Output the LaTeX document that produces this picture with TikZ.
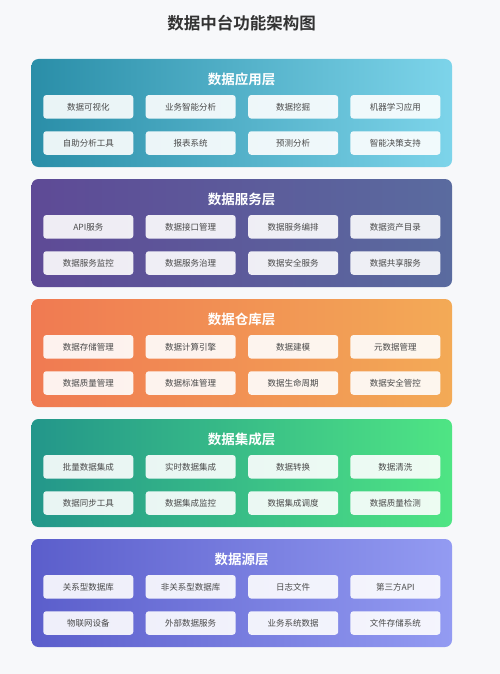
\documentclass[tikz,border=0pt]{standalone}
\usepackage{fontspec}
\setmainfont{Noto Sans CJK SC}
\newfontfamily\cjkbold{Noto Sans CJK SC Bold}
\usetikzlibrary{positioning}
\definecolor{bgc}{HTML}{F7F8FA}
\definecolor{titlec}{HTML}{333333}
\definecolor{itemtxt}{HTML}{4A4A4A}
\definecolor{aL}{HTML}{2A8EA8}\definecolor{aR}{HTML}{7DD4EA}
\definecolor{bL}{HTML}{5E4A96}\definecolor{bR}{HTML}{5A6B9F}
\definecolor{cL}{HTML}{F07A52}\definecolor{cR}{HTML}{F3AA56}
\definecolor{dL}{HTML}{23968A}\definecolor{dR}{HTML}{4FE584}
\definecolor{eL}{HTML}{5B5ECB}\definecolor{eR}{HTML}{939BF2}
\tikzset{
  panelbox/.style={rounded corners=7pt},
  itembox/.style={rounded corners=3pt, fill=white, fill opacity=0.9, text opacity=1,
    minimum width=90pt, minimum height=23.5pt, inner sep=0pt, text=itemtxt,
    font=\fontsize{8.5}{10}\selectfont},
  layertitle/.style={text=white, font=\cjkbold\fontsize{13.5}{15}\selectfont},
}
\begin{document}
\begin{tikzpicture}[x=1pt,y=-1pt]
\fill[bgc] (0,0) rectangle (500,674);
\useasboundingbox (0,0) rectangle (500,674);
\node[text=titlec, font=\cjkbold\fontsize{16.5}{18}\selectfont] (title) at (241.5,23) {数据中台功能架构图};
% layer macro-like loop
\foreach \i/\lc/\rc/\name/\a/\b/\c/\d/\e/\f/\g/\h in {
 0/aL/aR/数据应用层/数据可视化/业务智能分析/数据挖掘/机器学习应用/自助分析工具/报表系统/预测分析/智能决策支持,
 1/bL/bR/数据服务层/API服务/数据接口管理/数据服务编排/数据资产目录/数据服务监控/数据服务治理/数据安全服务/数据共享服务,
 2/cL/cR/数据仓库层/数据存储管理/数据计算引擎/数据建模/元数据管理/数据质量管理/数据标准管理/数据生命周期/数据安全管控,
 3/dL/dR/数据集成层/批量数据集成/实时数据集成/数据转换/数据清洗/数据同步工具/数据集成监控/数据集成调度/数据质量检测,
 4/eL/eR/数据源层/关系型数据库/非关系型数据库/日志文件/第三方API/物联网设备/外部数据服务/业务系统数据/文件存储系统}{
  \pgfmathsetmacro{\top}{59+120*\i}
  \shade[panelbox, left color=\lc, right color=\rc] (31.5,\top) rectangle (452,\top+108);
  \node[layertitle] (L\i) at (241.5,\top+20) {\name};
  \node[itembox] (L\i a) at (88.3,\top+47.8) {\a};
  \node[itembox] (L\i b) at (190.7,\top+47.8) {\b};
  \node[itembox] (L\i c) at (293.2,\top+47.8) {\c};
  \node[itembox] (L\i d) at (395.4,\top+47.8) {\d};
  \node[itembox] (L\i e) at (88.3,\top+84) {\e};
  \node[itembox] (L\i f) at (190.7,\top+84) {\f};
  \node[itembox] (L\i g) at (293.2,\top+84) {\g};
  \node[itembox] (L\i h) at (395.4,\top+84) {\h};
}
\end{tikzpicture}
\end{document}
